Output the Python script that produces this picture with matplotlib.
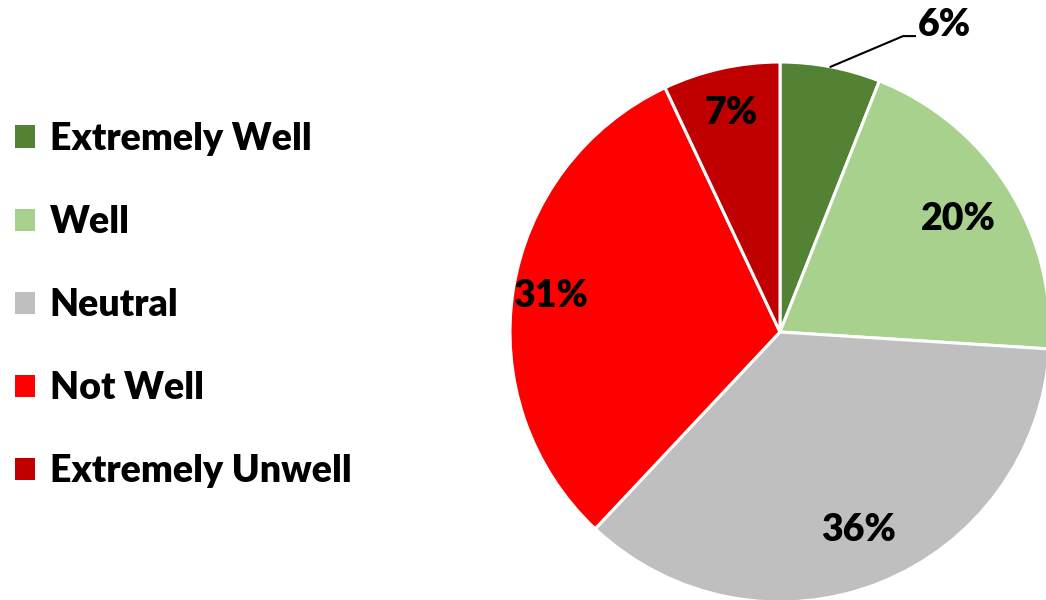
import matplotlib
matplotlib.use("Agg")
import matplotlib.pyplot as plt
from matplotlib.patches import Patch
import numpy as np

categories = ["Extremely Well", "Well", "Neutral", "Not Well", "Extremely Unwell"]
values = [6, 20, 36, 31, 7]
colors = ["#548235", "#A9D18E", "#BFBFBF", "#FF0000", "#C00000"]

plt.rcParams["font.family"] = ["Lato", "DejaVu Sans"]
WT = "heavy"

W, H = 1046, 600
fig = plt.figure(figsize=(W / 100, H / 100), dpi=100)
cx, cy, R = 780, 332, 270
ax = fig.add_axes([(cx - R) / W, (H - cy - R) / H, 2 * R / W, 2 * R / H])

wedges, _ = ax.pie(values, colors=colors, startangle=90, counterclock=False,
                   radius=1, wedgeprops=dict(edgecolor="white", linewidth=2.2))
ax.set_xlim(-1, 1)
ax.set_ylim(-1, 1)
ax.set_aspect("equal")
ax.axis("off")
for w in wedges:
    w.set_clip_on(False)

fs = 27
label_r = [None, 0.78, 0.79, 0.86, 0.83]
for i, (w, v) in enumerate(zip(wedges, values)):
    mid = np.deg2rad((w.theta1 + w.theta2) / 2)
    if i == 0:
        x0, y0 = np.cos(mid), np.sin(mid)
        ax.plot([x0, 0.456, 0.50], [y0, 1.096, 1.096], color="black", lw=1.5, clip_on=False)
        ax.text(0.51, 1.137, f"{v}%", ha="left", va="center", fontsize=fs,
                fontweight=WT, clip_on=False)
    else:
        r = label_r[i]
        ax.text(r * np.cos(mid), r * np.sin(mid), f"{v}%", ha="center", va="center",
                fontsize=fs, fontweight=WT)

handles = [Patch(facecolor=c, edgecolor="none") for c in colors]
fig.legend(handles, categories, loc="upper left", bbox_to_anchor=(0.0, 0.822),
           frameon=False, handlelength=0.53, handleheight=0.53,
           handletextpad=0.4, labelspacing=1.31, borderaxespad=0,
           prop=dict(size=fs, weight=WT))

fig.savefig("out.png", dpi=100)
